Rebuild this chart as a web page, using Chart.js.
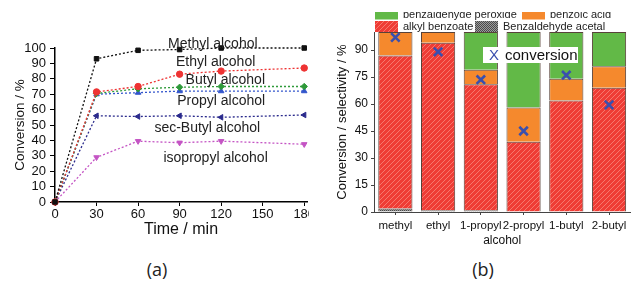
<!DOCTYPE html>
<html>
<head>
<meta charset="utf-8">
<script src="https://cdn.jsdelivr.net/npm/chart.js@4.4.1/dist/chart.umd.min.js"></script>
<style>
  body { margin: 0; background: #fff; width: 633px; height: 282px; position: relative; overflow: hidden; }
  #wrapA { position: absolute; left: 0; top: 0; width: 309px; height: 240px; overflow: hidden; }
  #wrapB { position: absolute; left: 320px; top: 12px; width: 313px; height: 238px; overflow: hidden; }
  #wrapB canvas { position: absolute; left: 0; top: -12px; }
  .panel { position: absolute; top: 257px; width: 60px; margin-left: -30px; text-align: center;
           font-family: 'Open Sans', sans-serif; font-size: 18px; line-height: 24px; color: #222; }
</style>
</head>
<body>
<div id="wrapA"><canvas id="lineChart" width="330" height="240"></canvas></div>
<div id="wrapB"><canvas id="barChart" width="319" height="250"></canvas></div>
<div class="panel" style="left:157px">(a)</div>
<div class="panel" style="left:483px">(b)</div>

<script>
// ---- (a) conversion vs time ----
const times = [0, 30, 60, 90, 120, 180];
const timeTicks = [0, 30, 60, 90, 120, 150, 180];
const convTicks = [0, 10, 20, 30, 40, 50, 60, 70, 80, 90, 100];

const methyl    = [0, 93, 98.5, 99, 100, 100];
const ethyl     = [0, 71.5, 75, 83, 85, 87];
const butyl     = [0, 70.5, 73.5, 74.5, 75, 75];
const propyl    = [0, 70, 71, 72, 72, 72];
const secButyl  = [0, 56, 55.5, 56, 55, 56.5];
const isopropyl = [0, 29, 39.5, 38.5, 39.5, 37.5];

const seriesNames = ["Methyl alcohol", "Ethyl alcohol", "Butyl alcohol",
                     "Propyl alcohol", "sec-Butyl alcohol", "isopropyl alcohol"];
// where each curve name sits, in data units (time, conversion)
const labelX = [114, 116, 123, 120, 110, 116];
const labelY = [102.5, 91, 79, 65.5, 48, 28.5];

// ---- (b) conversion / selectivity per alcohol ----
const alcohols      = ["methyl", "ethyl", "1-propyl", "2-propyl", "1-butyl", "2-butyl"];
const acetal        = [2, 1, 1, 0, 0, 0];
const alkylBenzoate = [85, 93, 70, 39, 62, 69];
const benzoicAcid   = [13, 6, 8, 19, 12, 12];
const peroxide      = [0, 0, 21, 42, 26, 19];
const conversion    = [97, 89, 73.5, 45, 76, 59.5];
const selTicks = [0, 15, 30, 45, 60, 75, 90];

Chart.defaults.font.family = "'Liberation Sans', Arial, sans-serif";
Chart.defaults.color = "#222";

function lineSet(label, data, color, style, rot) {
    return {
        label: label,
        data: times.map((t, i) => ({ x: t, y: data[i] })),
        borderColor: color,
        backgroundColor: color,
        borderWidth: 1.3,
        borderDash: [2, 2],
        pointStyle: style,
        pointRotation: rot || 0,
        pointRadius: 3.2,
        pointBorderWidth: 1,
        tension: 0
    };
}

const curveLabels = {
    id: "curveLabels",
    afterDatasetsDraw(chart) {
        const { ctx, scales: { x, y } } = chart;
        ctx.save();
        ctx.font = "14px 'Liberation Sans', Arial, sans-serif";
        ctx.fillStyle = "#222";
        ctx.textAlign = "center";
        ctx.textBaseline = "middle";
        seriesNames.forEach((n, i) => {
            ctx.fillText(n, x.getPixelForValue(labelX[i]), y.getPixelForValue(labelY[i]));
        });
        ctx.restore();
    }
};

new Chart(document.getElementById("lineChart"), {
    type: "line",
    data: {
        datasets: [
            lineSet("Methyl alcohol", methyl, "#111111", "rect"),
            lineSet("Ethyl alcohol", ethyl, "#ee3333", "circle"),
            lineSet("Butyl alcohol", butyl, "#2f9a3a", "rectRot"),
            lineSet("Propyl alcohol", propyl, "#3355cc", "triangle"),
            lineSet("sec-Butyl alcohol", secButyl, "#2a2a8c", "triangle", -90),
            lineSet("isopropyl alcohol", isopropyl, "#c454c4", "triangle", 180)
        ]
    },
    options: {
        responsive: false,
        animation: false,
        devicePixelRatio: 1,
        layout: { padding: { left: 0, top: 48, right: 23, bottom: 0 } },
        plugins: { legend: { display: false }, tooltip: { enabled: false } },
        elements: { point: { hoverRadius: 3 } },
        clip: false,
        scales: {
            x: {
                type: "linear",
                min: 0,
                max: 182,
                afterBuildTicks: s => { s.ticks = timeTicks.map(v => ({ value: v })); },
                afterFit: s => { s.height = 38; },
                grid: { drawOnChartArea: false, tickLength: 4, color: "#000" },
                border: { color: "#000", width: 1.5 },
                ticks: { font: { size: 13 }, color: "#111", padding: 1, maxRotation: 0, autoSkip: false },
                title: { display: true, text: "Time / min", font: { size: 16 }, color: "#111",
                         padding: { top: 0, bottom: 1 } }
            },
            y: {
                min: 0,
                max: 100,
                afterBuildTicks: s => { s.ticks = convTicks.map(v => ({ value: v })); },
                afterFit: s => { s.width = 55; },
                grid: { drawOnChartArea: false, tickLength: 5, color: "#000" },
                border: { color: "#000", width: 1.5 },
                ticks: { font: { size: 13 }, color: "#111", padding: 4, autoSkip: false },
                title: { display: true, text: "Conversion / %", font: { size: 13.5 }, color: "#111",
                         padding: { top: 12, bottom: 0 } }
            }
        }
    },
    plugins: [curveLabels]
});

// patterns for the hatched fills
function redHatch() {
    const c = document.createElement("canvas");
    c.width = 5; c.height = 5;
    const g = c.getContext("2d");
    g.fillStyle = "#ef3c35";
    g.fillRect(0, 0, 5, 5);
    g.strokeStyle = "#f6786e";
    g.lineWidth = 1;
    g.beginPath();
    g.moveTo(0, 5); g.lineTo(5, 0);
    g.moveTo(-1, 1); g.lineTo(1, -1);
    g.moveTo(4, 6); g.lineTo(6, 4);
    g.stroke();
    return g.createPattern(c, "repeat");
}

function greyCheck() {
    const c = document.createElement("canvas");
    c.width = 2; c.height = 2;
    const g = c.getContext("2d");
    g.fillStyle = "#9c9c9c";
    g.fillRect(0, 0, 2, 2);
    g.fillStyle = "#4a4a4a";
    g.fillRect(0, 0, 1, 1);
    g.fillRect(1, 1, 1, 1);
    return g.createPattern(c, "repeat");
}

const outline = "rgba(70,45,35,0.9)";

// legend entries: dataset index, row, offset from chart area left
const legendRows = [14.5, 27];
const legendItems = [
    { ds: 3, row: 0, dx: 1 },
    { ds: 2, row: 0, dx: 148 },
    { ds: 1, row: 1, dx: 1 },
    { ds: 0, row: 1, dx: 101 }
];

const barLegend = {
    id: "barLegend",
    afterDraw(chart) {
        const { ctx, chartArea } = chart;
        ctx.save();
        ctx.font = "11px 'Liberation Sans', Arial, sans-serif";
        ctx.textBaseline = "middle";
        ctx.textAlign = "left";
        legendItems.forEach(it => {
            const ds = chart.data.datasets[it.ds];
            const x = chartArea.left + it.dx;
            const y = legendRows[it.row];
            ctx.fillStyle = ds.backgroundColor;
            ctx.fillRect(x, y - 6, 23, 11);
            ctx.fillStyle = "#222";
            ctx.fillText(ds.label, x + 28, y);
        });

        // conversion key box
        const bx = chartArea.left + 109, by = chartArea.top + 15;
        ctx.fillStyle = "#fff";
        ctx.fillRect(bx, by, 95, 16);
        ctx.font = "15px 'Liberation Sans', Arial, sans-serif";
        ctx.fillStyle = "#3a4fae";
        ctx.fillText("X", bx + 6, by + 8.5);
        ctx.fillStyle = "#111";
        ctx.fillText("conversion", bx + 22, by + 8.5);
        ctx.restore();
    }
};

function barSet(label, data, fill) {
    return {
        label: label,
        data: data,
        backgroundColor: fill,
        borderColor: outline,
        borderWidth: 1,
        stack: "sel",
        barPercentage: 0.8,
        categoryPercentage: 1
    };
}

new Chart(document.getElementById("barChart"), {
    type: "bar",
    data: {
        labels: alcohols,
        datasets: [
            barSet("Benzaldehyde acetal", acetal, greyCheck()),
            barSet("alkyl benzoate", alkylBenzoate, redHatch()),
            barSet("benzoic acid", benzoicAcid, "#f5892d"),
            barSet("benzaldehyde peroxide", peroxide, "#62b947"),
            {
                type: "line",
                label: "conversion",
                data: conversion,
                stack: "conv",
                order: -1,
                showLine: false,
                pointStyle: "crossRot",
                pointRadius: 6,
                pointBorderWidth: 2.6,
                borderColor: "#3a4fae",
                backgroundColor: "#3a4fae"
            }
        ]
    },
    options: {
        responsive: false,
        animation: false,
        devicePixelRatio: 1,
        layout: { padding: { left: 0, top: 32, right: 2, bottom: 0 } },
        plugins: { legend: { display: false }, tooltip: { enabled: false } },
        scales: {
            x: {
                stacked: true,
                afterFit: s => { s.height = 38; },
                grid: { drawOnChartArea: false, offset: false, tickLength: 3, color: "#444" },
                border: { color: "#444", width: 1 },
                ticks: { font: { size: 11.5 }, color: "#111", padding: 4, maxRotation: 0, autoSkip: false },
                title: { display: true, text: "alcohol", font: { size: 12 }, color: "#111",
                         padding: { top: 0, bottom: 2 } }
            },
            y: {
                stacked: true,
                min: 0,
                max: 100,
                afterBuildTicks: s => { s.ticks = selTicks.map(v => ({ value: v })); },
                afterFit: s => { s.width = 54; },
                grid: { drawOnChartArea: false, tickLength: 3, color: "#444" },
                border: { color: "#444", width: 1 },
                ticks: { font: { size: 12 }, color: "#111", padding: 3, autoSkip: false },
                title: { display: true, text: "Conversion / selectivity / %", font: { size: 13 }, color: "#111",
                         padding: { top: 15, bottom: 0 } }
            }
        }
    },
    plugins: [barLegend]
});
</script>
</body>
</html>
